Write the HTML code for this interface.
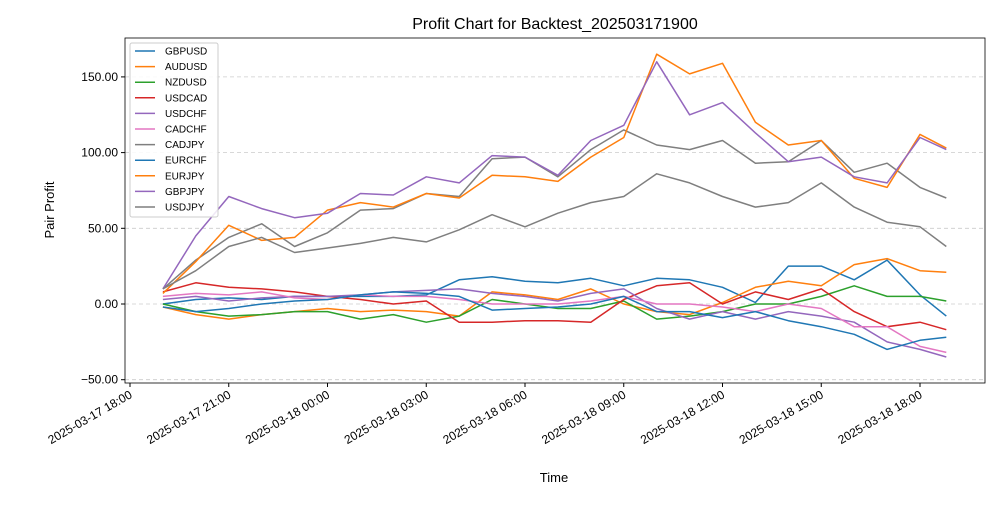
<!DOCTYPE html>
<html><head><meta charset="utf-8"><style>
body{margin:0;background:#fff;font-family:"Liberation Sans","DejaVu Sans",sans-serif}
svg text{font-family:"Liberation Sans","DejaVu Sans",sans-serif}
</style></head><body>
<svg id="chart" width="1000" height="500" xmlns="http://www.w3.org/2000/svg">
<rect width="1000" height="500" fill="#fff"/>
<text x="555" y="29" font-size="16" text-anchor="middle">Profit Chart for Backtest_202503171900</text>
<g id="grid"></g><g id="series"></g><g id="axes"></g><g id="legend"></g>
<text x="554" y="482" font-size="13" text-anchor="middle">Time</text>
<text x="54" y="210" font-size="13" text-anchor="middle" transform="rotate(-90 54 210)">Pair Profit</text>
</svg>
<script>
const hours = [1,2,3,4,5,6,7,8,9,10,11,12,13,14,15,16,17,18,19,20,21,22,23,24,24.8];
const seriesNames = ["GBPUSD","AUDUSD","NZDUSD","USDCAD","USDCHF","CADCHF","CADJPY","EURCHF","EURJPY","GBPJPY","USDJPY"];
const seriesColors = ["#1f77b4","#ff7f0e","#2ca02c","#d62728","#9467bd","#e377c2","#7f7f7f","#1f77b4","#ff7f0e","#9467bd","#7f7f7f"];
const gbpusd = [0,3,4,3,5,5,5,5,6,16,18,15,14,17,12,17,16,11,1,25,25,16,29,6,-8];
const audusd = [-2,-7,-10,-7,-5,-3,-5,-4,-5,-8,8,6,3,10,0,-5,-7,1,11,15,12,26,30,22,21];
const nzdusd = [0,-5,-8,-7,-5,-5,-10,-7,-12,-8,3,0,-3,-3,2,-10,-8,-5,0,0,5,12,5,5,2];
const usdcad = [8,14,11,10,8,5,3,0,2,-12,-12,-11,-11,-12,3,12,14,0,8,3,10,-5,-15,-12,-17];
const usdchf = [3,5,2,4,5,5,6,8,9,10,7,5,2,7,10,-3,-10,-5,-10,-5,-8,-12,-25,-30,-35];
const cadchf = [5,7,6,8,4,3,6,5,5,3,0,0,0,2,5,0,0,-2,-5,0,-3,-15,-15,-28,-32];
const cadjpy = [10,29,44,53,38,47,62,63,73,71,96,97,84,102,115,105,102,108,93,94,108,87,93,77,70];
const eurchf = [-2,-5,-3,0,2,3,6,8,7,5,-4,-3,-2,0,5,-5,-5,-9,-5,-11,-15,-20,-30,-24,-22];
const eurjpy = [7,28,52,42,44,62,67,64,73,70,85,84,81,97,110,165,152,159,120,105,108,83,77,112,103];
const gbpjpy = [10,45,71,63,57,60,73,72,84,80,98,97,85,108,118,160,125,133,113,94,97,84,80,110,102];
const usdjpy = [10,22,38,44,34,37,40,44,41,49,59,51,60,67,71,86,80,71,64,67,80,64,54,51,38];
const allSeries = [gbpusd,audusd,nzdusd,usdcad,usdchf,cadchf,cadjpy,eurchf,eurjpy,gbpjpy,usdjpy];
const yTicks = [-50,0,50,100,150];
const yTickLabels = ["−50.00","0.00","50.00","100.00","150.00"];
const xTicks = [0,3,6,9,12,15,18,21,24];
const xTickLabels = ["2025-03-17 18:00","2025-03-17 21:00","2025-03-18 00:00","2025-03-18 03:00","2025-03-18 06:00","2025-03-18 09:00","2025-03-18 12:00","2025-03-18 15:00","2025-03-18 18:00"];

const NS="http://www.w3.org/2000/svg";
const L=125,R=985,T=38,B=383;
const xs=h=>130+h*(790/24);
const ys=v=>304-v*1.514;
function mk(tag,parent){const e=document.createElementNS(NS,tag);document.getElementById(parent).appendChild(e);return e;}

yTicks.forEach((v,i)=>{
  const g=mk("line","grid");
  
  
  g.setAttribute("x1",L);g.setAttribute("x2",R);g.setAttribute("y1",ys(v));g.setAttribute("y2",ys(v));
  g.setAttribute("stroke","#ccc");g.setAttribute("stroke-dasharray","4,3");g.setAttribute("stroke-width","0.8");
  const t=mk("line","axes");
  
  
  t.setAttribute("x1",L-4);t.setAttribute("x2",L);t.setAttribute("y1",ys(v));t.setAttribute("y2",ys(v));t.setAttribute("stroke","#000");
  const tx=mk("text","axes");
  
  
  tx.setAttribute("x",L-7);tx.setAttribute("y",ys(v)+4);tx.setAttribute("font-size","12");tx.setAttribute("text-anchor","end");
  tx.textContent=yTickLabels[i];
});
xTicks.forEach((h,i)=>{
  const t=mk("line","axes");
  
  
  t.setAttribute("x1",xs(h));t.setAttribute("x2",xs(h));t.setAttribute("y1",B);t.setAttribute("y2",B+4);t.setAttribute("stroke","#000");
  const tx=mk("text","axes");
  
  
  const x=xs(h)+3,y=B+14;
  tx.setAttribute("x",x);tx.setAttribute("y",y);tx.setAttribute("font-size","12");tx.setAttribute("text-anchor","end");
  tx.setAttribute("transform",`rotate(-30 ${x} ${y})`);
  tx.textContent=xTickLabels[i];
});
const frame=mk("rect","axes");


frame.setAttribute("x",L);frame.setAttribute("y",T);frame.setAttribute("width",R-L);frame.setAttribute("height",B-T);
frame.setAttribute("fill","none");frame.setAttribute("stroke","#000");frame.setAttribute("stroke-width","0.8");

allSeries.forEach((d,i)=>{
  const p=mk("polyline","series");
  
  
  p.setAttribute("points",d.map((v,j)=>xs(hours[j]).toFixed(1)+","+ys(v).toFixed(1)).join(" "));
  p.setAttribute("fill","none");p.setAttribute("stroke",seriesColors[i]);p.setAttribute("stroke-width","1.5");p.setAttribute("stroke-linejoin","round");
});

const box=mk("rect","legend");


box.setAttribute("x",130);box.setAttribute("y",43);box.setAttribute("width",88);box.setAttribute("height",174);
box.setAttribute("fill","#fff");box.setAttribute("fill-opacity","0.85");box.setAttribute("stroke","#ccc");box.setAttribute("rx","2");
seriesNames.forEach((n,i)=>{
  const y=51+i*15.6;
  const l=mk("line","legend");
  
  
  l.setAttribute("x1",135);l.setAttribute("x2",155);l.setAttribute("y1",y);l.setAttribute("y2",y);
  l.setAttribute("stroke",seriesColors[i]);l.setAttribute("stroke-width","1.5");
  const t=mk("text","legend");
  
  
  t.setAttribute("x",165);t.setAttribute("y",y+3.5);t.setAttribute("font-size","10");
  t.textContent=n;
});
</script>
</body></html>
